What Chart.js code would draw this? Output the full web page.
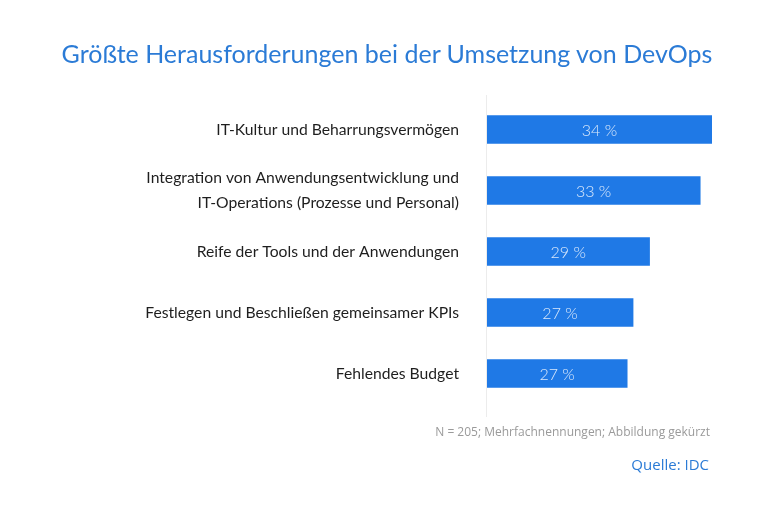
<!DOCTYPE html>
<html lang="de">
<head>
<meta charset="utf-8">
<script src="https://cdn.jsdelivr.net/npm/chart.js@4.4.1/dist/chart.umd.min.js"></script>
<style>
  html, body { margin: 0; padding: 0; background: #fff; }
  #wrap { position: relative; width: 762px; height: 508px; overflow: hidden; }
  #chart { position: absolute; left: 0; top: 0; }
  .txt { position: absolute; white-space: nowrap; }
  #title { left: 0; width: 774px; top: 38px; text-align: center; font-family: Lato, sans-serif; font-size: 25px; color: #2b7bd6; }
  #note { right: 52px; top: 423px; font-family: "Open Sans", sans-serif; font-size: 12px; color: #9a9a9a; }
  #source { right: 53px; top: 454px; font-family: "Open Sans", sans-serif; font-size: 15px; color: #2b7bd6; }
</style>
</head>
<body>
<div id="wrap">
  <canvas id="chart" width="762" height="508"></canvas>
  <div class="txt" id="title">Größte Herausforderungen bei der Umsetzung von DevOps</div>
  <div class="txt" id="note">N = 205; Mehrfachnennungen; Abbildung gekürzt</div>
  <div class="txt" id="source">Quelle: IDC</div>
</div>
<script>
(function () {
  'use strict';

  // Kategorien (mehrzeilige Labels als Arrays)
  var categories = [
    'IT-Kultur und Beharrungsvermögen',
    ['Integration von Anwendungsentwicklung und', 'IT-Operations (Prozesse und Personal)'],
    'Reife der Tools und der Anwendungen',
    'Festlegen und Beschließen gemeinsamer KPIs',
    'Fehlendes Budget'
  ];
  // Anteile in Prozent (aus der Grafik geschätzt)
  var shares = [34.1, 33.1, 28.8, 27.4, 26.9];
  // Achse ist gekürzt
  var axisMin = 15;
  var axisMax = 34.1;

  var barBlue = '#1f79e6';

  // dünne graue Linie links, etwas länger als der Plotbereich
  var baseLine = {
    id: 'baseLine',
    beforeDatasetsDraw: function (chart) {
      var ctx = chart.ctx;
      var a = chart.chartArea;
      ctx.save();
      ctx.strokeStyle = '#ececec';
      ctx.lineWidth = 1;
      ctx.beginPath();
      ctx.moveTo(a.left - 0.5, a.top - 4);
      ctx.lineTo(a.left - 0.5, a.bottom + 13);
      ctx.stroke();
      ctx.restore();
    }
  };

  var valueLabels = {
    id: 'valueLabels',
    afterDatasetsDraw: function (chart) {
      var ctx = chart.ctx;
      var meta = chart.getDatasetMeta(0);
      var left = chart.chartArea.left;
      ctx.save();
      ctx.font = '300 16px Lato, sans-serif';
      ctx.fillStyle = '#dbe9fb';
      ctx.textAlign = 'center';
      ctx.textBaseline = 'middle';
      meta.data.forEach(function (bar, i) {
        var cx = (bar.x + left) / 2;
        ctx.fillText(Math.round(shares[i]) + ' %', cx, bar.y + 1);
      });
      ctx.restore();
    }
  };

  new Chart(document.getElementById('chart'), {
    type: 'bar',
    data: {
      labels: categories,
      datasets: [{
        data: shares,
        backgroundColor: barBlue,
        borderWidth: 0,
        barThickness: 28
      }]
    },
    options: {
      indexAxis: 'y',
      responsive: false,
      animation: false,
      layout: { padding: { top: 99, bottom: 104, right: 50, left: 0 } },
      plugins: {
        legend: { display: false },
        tooltip: { enabled: false }
      },
      scales: {
        x: {
          display: false,
          min: axisMin,
          max: axisMax
        },
        y: {
          afterFit: function (scale) { scale.width = 487; },
          grid: { display: false, drawTicks: false },
          border: { display: false },
          ticks: {
            padding: 28,
            color: '#1e1e1e',
            font: { family: 'Lato, sans-serif', size: 15.7, lineHeight: 1.55 }
          }
        }
      }
    },
    plugins: [baseLine, valueLabels]
  });
})();
</script>
</body>
</html>
